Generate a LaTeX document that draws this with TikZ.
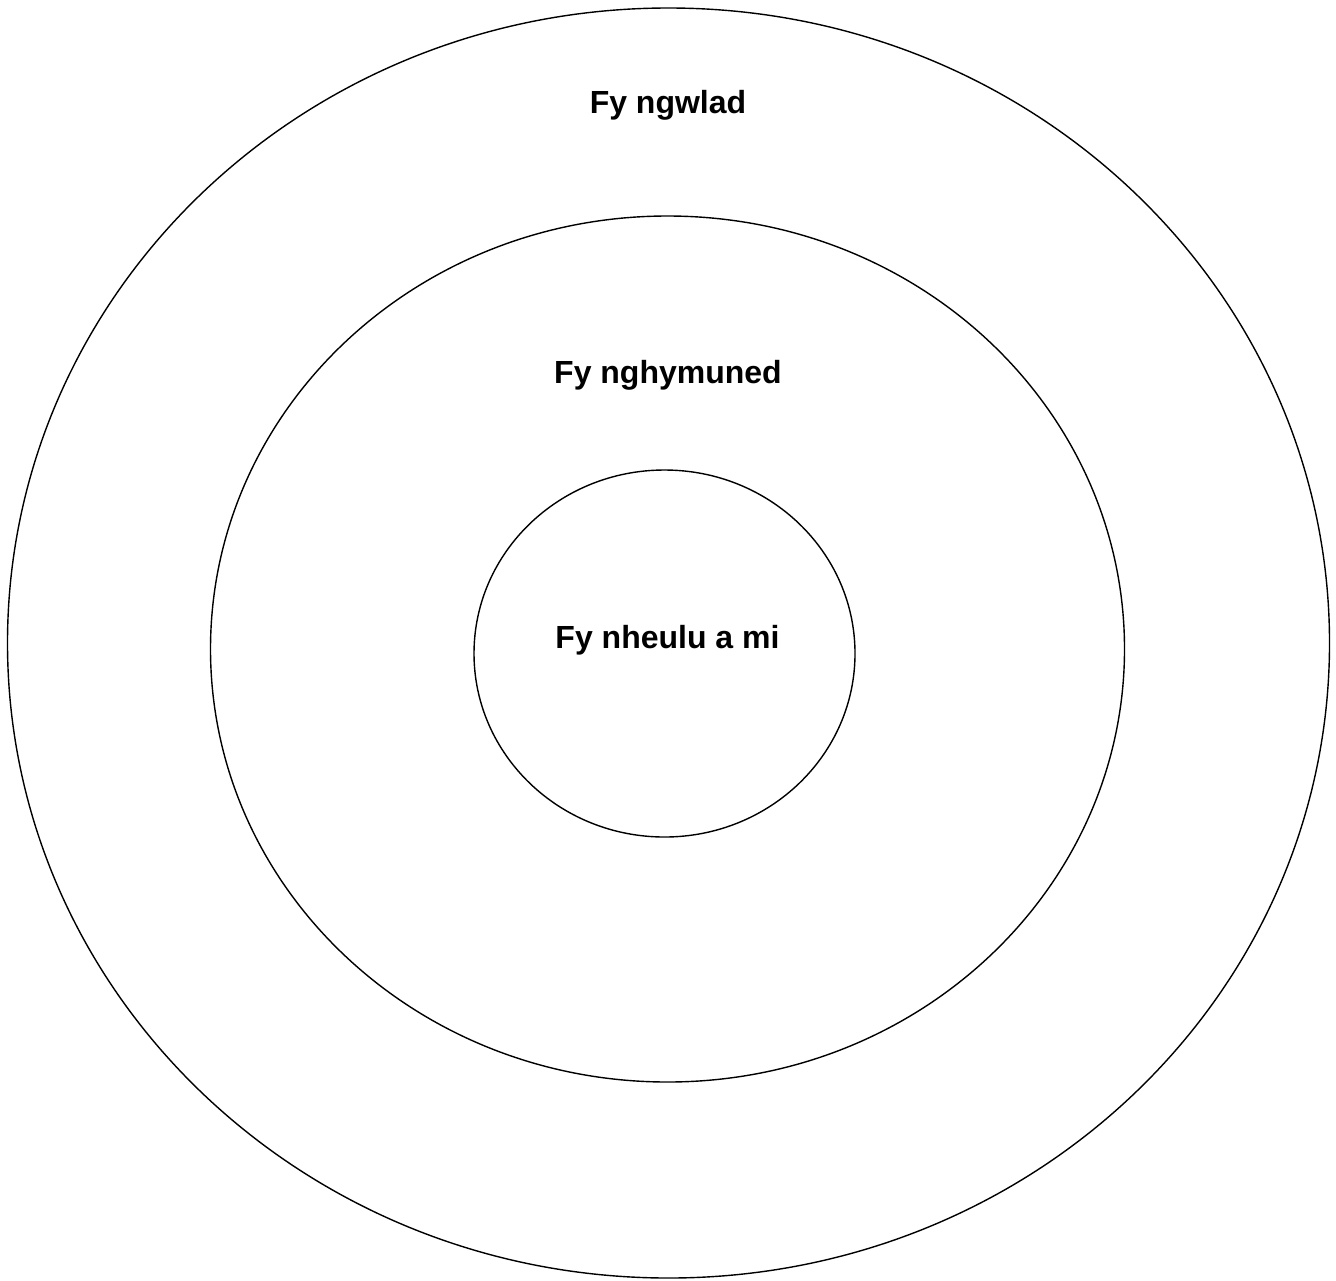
\documentclass[tikz,border=0pt]{standalone}
\usepackage{fontspec}
\setmainfont{Liberation Sans}

\begin{document}
\begin{tikzpicture}[x=0.5pt, y=-0.5pt,
    ring/.style={draw=black, line width=0.7pt},
    ringlabel/.style={anchor=base, font=\fontsize{16pt}{19pt}\selectfont\bfseries}]
  % page frame, pixel coordinates from the top left
  \useasboundingbox (0,0) rectangle (1336,1280);

  % the three nested rings
  \draw[ring] (668.5,643) ellipse [x radius=330.5pt, y radius=317.5pt];
  \draw[ring] (667.5,649) ellipse [x radius=228.5pt, y radius=216.5pt];
  \draw[ring] (664.5,653.5) ellipse [x radius=95.25pt, y radius=91.75pt];

  % ring labels
  \node[ringlabel] (gwlad) at (668,113) {Fy ngwlad};
  \node[ringlabel] (cymuned) at (668,383) {Fy nghymuned};
  \node[ringlabel] (teulu) at (667.5,648) {Fy nheulu a mi};
\end{tikzpicture}
\end{document}
